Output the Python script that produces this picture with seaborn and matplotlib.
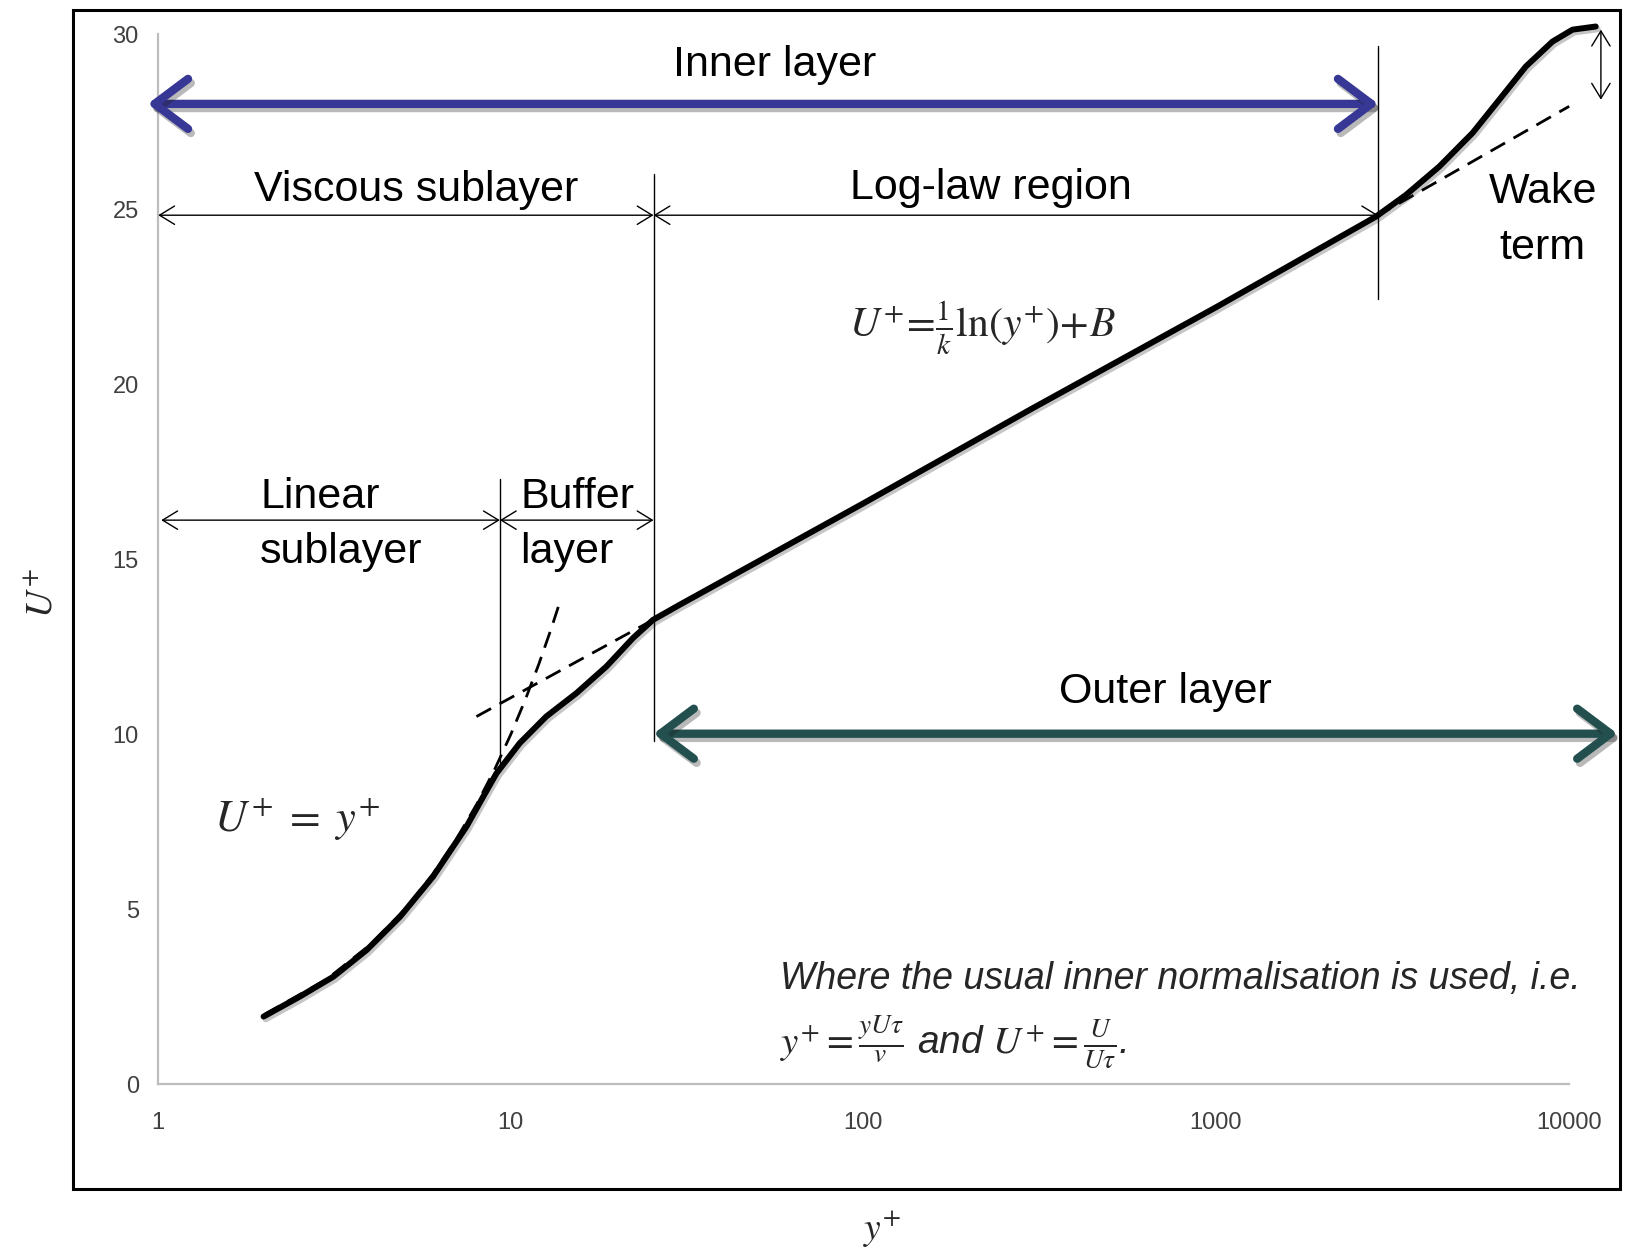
import numpy as np
import pandas as pd
import seaborn as sns
import matplotlib
matplotlib.use("Agg")
import matplotlib.pyplot as plt
from matplotlib.patches import Rectangle
import matplotlib.patheffects as pe

# ---- mean velocity profile (wall units) ----
profile_yplus = [1.99, 2.52, 3.14, 3.90, 4.85, 6.02, 7.49, 8.35, 9.11, 10.6,
                 12.6, 15.36, 18.67, 22.2, 25.3, 30.1, 100, 300, 1000, 2843,
                 3458, 4298, 5342, 6360, 7568, 9004, 10260, 11940]
profile_uplus = [1.94, 2.51, 3.08, 3.84, 4.79, 5.94, 7.37, 8.22, 8.89, 9.75,
                 10.51, 11.18, 11.94, 12.75, 13.27, 13.70, 16.6, 19.3, 22.2, 24.79,
                 25.41, 26.22, 27.18, 28.13, 29.08, 29.79, 30.13, 30.22]

# dashed reference laws
linear_yplus = [2.0, 3.0, 4.0, 5.0, 6.0, 7.0, 8.0, 9.0, 10.0, 11.0, 12.0, 13.0, 13.9]
linear_uplus = [2.0, 3.0, 4.0, 5.0, 6.0, 7.0, 8.0, 9.0, 10.0, 11.0, 12.0, 13.0, 13.9]
loglaw_inner_yplus = [7.99, 25.3]
loglaw_inner_uplus = [10.51, 13.27]
loglaw_outer_yplus = [2843, 10040]
loglaw_outer_uplus = [24.79, 27.94]

x_ticks = [1, 10, 100, 1000, 10000]
x_tick_labels = ["1", "10", "100", "1000", "10000"]
y_ticks = [0, 5, 10, 15, 20, 25, 30]

# region boundaries (y+)
b_linear, b_buffer, b_log, b_outer = 9.31, 25.4, 2885, 13760

sns.set_theme(style="white")
plt.rcParams["font.family"] = ["Liberation Sans Narrow", "Liberation Sans", "DejaVu Sans"]
plt.rcParams["mathtext.fontset"] = "stix"

fig = plt.figure(figsize=(16.32, 12.52), dpi=100)
ax = fig.add_axes([0.09694, 0.13379, 0.8957, 0.8579])
ax.set_xscale("log")
ax.set_xlim(1, 10 ** 4.1458)
ax.set_ylim(0, 30.68)

# outer frame
fig.add_artist(Rectangle((0.04467, 0.05064), 0.99295 - 0.04467, 0.99169 - 0.05064,
                         transform=fig.transFigure, fill=False, lw=2.2, ec="black"))

profile = pd.DataFrame({"yplus": profile_yplus, "uplus": profile_uplus})
shadow = [pe.SimpleLineShadow(offset=(1.5, -2), alpha=0.25), pe.Normal()]

dash_kw = dict(color="black", lw=2.0, ls=(0, (6, 3.5)), zorder=3)
ax.plot(linear_yplus, linear_uplus, **dash_kw)
ax.plot(loglaw_inner_yplus, loglaw_inner_uplus, **dash_kw)
ax.plot(loglaw_outer_yplus, loglaw_outer_uplus, **dash_kw)

sns.lineplot(data=profile, x="yplus", y="uplus", ax=ax, color="black", lw=4.3,
             sort=False, estimator=None, zorder=4, path_effects=shadow,
             solid_capstyle="round", solid_joinstyle="round")

# axes styling
for s in ["top", "right"]:
    ax.spines[s].set_visible(False)
for s in ["left", "bottom"]:
    ax.spines[s].set_color("#bdbdbd")
    ax.spines[s].set_linewidth(1.6)
ax.spines["left"].set_bounds(0, 30)
ax.spines["bottom"].set_bounds(1, 10000)
ax.set_xticks(x_ticks)
ax.set_xticklabels(x_tick_labels)
ax.xaxis.set_minor_locator(matplotlib.ticker.NullLocator())
ax.set_yticks(y_ticks)
ax.tick_params(axis="both", which="major", direction="out", length=6, width=1.2,
               color="#bdbdbd", labelcolor="#404040", labelsize=17)
ax.tick_params(axis="x", pad=14)
ax.tick_params(axis="y", pad=8)
ax.set_xlabel("")
ax.set_ylabel("")

fig.text(0.0255, 0.526, r"$U^{+}$", rotation=90, ha="center", va="center", fontsize=27)
fig.text(0.5408, 0.019, r"$y^{+}$", ha="center", va="center", fontsize=27)

# vertical separators
thin = dict(color="black", lw=1.0, zorder=2)
ax.plot([b_linear, b_linear], [9.0, 17.3], **thin)
ax.plot([b_buffer, b_buffer], [9.8, 26.0], **thin)
ax.plot([b_log, b_log], [22.45, 29.65], **thin)


def span_arrow(x0, x1, y, **kw):
    ax.annotate("", xy=(x1, y), xytext=(x0, y), annotation_clip=False,
                arrowprops=dict(shrinkA=0, shrinkB=0, **kw))


thin_arrow = dict(arrowstyle="<->,head_length=0.9,head_width=0.55", mutation_scale=12,
                  color="black", lw=1.0)
span_arrow(1.0, b_buffer, 24.83, **thin_arrow)
span_arrow(b_buffer, b_log, 24.83, **thin_arrow)
span_arrow(1.02, b_linear, 16.12, **thin_arrow)
span_arrow(b_linear, b_buffer, 16.12, **thin_arrow)

# wake term span
ax.annotate("", xy=(12350, 28.13), xytext=(12350, 30.13), annotation_clip=False,
            arrowprops=dict(shrinkA=0, shrinkB=0, **thin_arrow))

# inner / outer layer arrows
big_shadow = [pe.SimpleLineShadow(offset=(2, -3), alpha=0.3), pe.Normal()]
span_arrow(0.934, b_log, 28.01, arrowstyle="<->,head_length=1.0,head_width=0.75",
           mutation_scale=24, color="#373895", lw=6.0, capstyle="round",
           joinstyle="round", path_effects=big_shadow)
span_arrow(b_buffer, b_outer, 10.02, arrowstyle="<->,head_length=1.0,head_width=0.75",
           mutation_scale=24, color="#244f4f", lw=6.0, capstyle="round",
           joinstyle="round", path_effects=big_shadow)

# labels
lab = dict(va="center", fontsize=31, color="black")
ax.text(56.1, 29.12, "Inner layer", ha="center", **lab)
ax.text(5.39, 25.55, "Viscous sublayer", ha="center", **lab)
ax.text(230.6, 25.61, "Log-law region", ha="center", **lab)
ax.text(8440, 24.7, "Wake\nterm", ha="center", linespacing=1.5, **lab)
ax.text(1.946, 16.0, "Linear\nsublayer", ha="left", multialignment="left",
        linespacing=1.5, **lab)
ax.text(10.63, 16.0, "Buffer\nlayer", ha="left", multialignment="left",
        linespacing=1.5, **lab)
ax.text(717, 11.2, "Outer layer", ha="center", **lab)

ax.text(218, 21.6, r"$U^{+}\!=\!\frac{1}{k}\mathrm{ln}(y^{+})\!+\!B$", ha="center",
        va="center", fontsize=30)
ax.text(2.47, 7.55, r"$U^{+}\;=\;y^{+}$", ha="center", va="center", fontsize=32)

ax.text(58.1, 3.0, "Where the usual inner normalisation is used, i.e.", ha="left",
        va="center", fontsize=27, style="italic")
ax.text(58.1, 1.2, r"$y^{+} = \frac{yU\tau}{v}$ and $U^{+} = \frac{U}{U\tau}$.",
        ha="left", va="center", fontsize=28, style="italic")

fig.savefig("out.png", dpi=100)
